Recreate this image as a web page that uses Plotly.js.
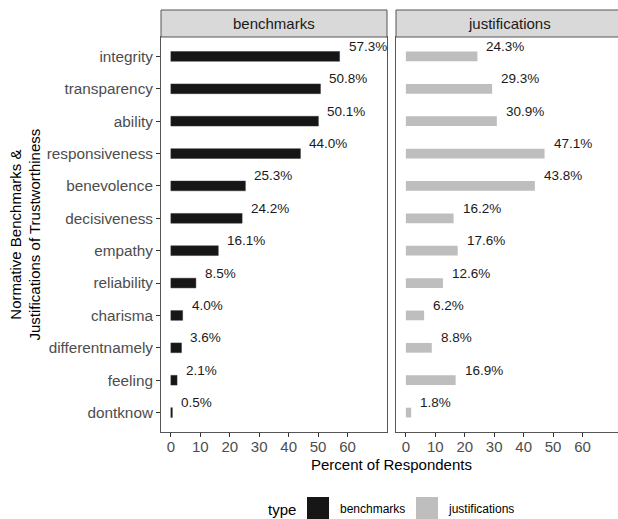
<!DOCTYPE html>
<html>
<head>
<meta charset="utf-8">
<script src="https://cdn.plot.ly/plotly-3.0.1.min.js"></script>
<style>
html,body{margin:0;padding:0;overflow:hidden;background:#fff;}
#chart{width:624px;height:519px;}
</style>
</head>
<body>
<div id="chart"></div>
<script>
const categories = ['integrity','transparency','ability','responsiveness','benevolence','decisiveness','empathy','reliability','charisma','differentnamely','feeling','dontknow'];
const benchmarks = [57.3,50.8,50.1,44.0,25.3,24.2,16.1,8.5,4.0,3.6,2.1,0.5];
const justifications = [24.3,29.3,30.9,47.1,43.8,16.2,17.6,12.6,6.2,8.8,16.9,1.8];
const panelNames = ['benchmarks','justifications'];
const xTicks = [0,10,20,30,40,50,60];
const xTitle = 'Percent of Respondents';
const yTitle = 'Normative Benchmarks &<br>Justifications of Trustworthiness';
const legendTitle = 'type';

const W = 624, H = 519, ML = 161, MR = 2, MT = 37, MB = 87;
const PW = W - ML - MR, PH = H - MT - MB;
const px = v => (v - ML) / PW;
const py = v => (H - MB - v) / PH;

const font = 'Liberation Sans, Arial, Helvetica, sans-serif';
const colBench = '#161616', colJust = '#bebebe';

const traces = [
  {type:'bar', orientation:'h', x:benchmarks, y:categories, xaxis:'x', yaxis:'y',
   width:0.3, marker:{color:colBench, line:{color:'#333', width:0.5}}, showlegend:false, hoverinfo:'skip'},
  {type:'bar', orientation:'h', x:justifications, y:categories, xaxis:'x2', yaxis:'y2',
   width:0.3, marker:{color:colJust}, showlegend:false, hoverinfo:'skip'}
];

const annotations = [];
const fmt = v => v.toFixed(1) + '%';
categories.forEach((c,i) => {
  annotations.push({xref:'x', yref:'y', x:benchmarks[i], y:c, text:fmt(benchmarks[i]), showarrow:false,
    xanchor:'left', yanchor:'middle', xshift:7, yshift:10, font:{family:font, size:13.5, color:'#1a1a1a'}});
  annotations.push({xref:'x2', yref:'y2', x:justifications[i], y:c, text:fmt(justifications[i]), showarrow:false,
    xanchor:'left', yanchor:'middle', xshift:7, yshift:10, font:{family:font, size:13.5, color:'#1a1a1a'}});
});

const d1 = [0, px(387)], d2 = [px(396), 1];
// strip labels
annotations.push({xref:'paper', yref:'paper', x:(d1[0]+d1[1])/2, y:py(23.5), text:panelNames[0], showarrow:false,
  xanchor:'center', yanchor:'middle', font:{family:font, size:15, color:'#1a1a1a'}});
annotations.push({xref:'paper', yref:'paper', x:(d2[0]+d2[1])/2, y:py(23.5), text:panelNames[1], showarrow:false,
  xanchor:'center', yanchor:'middle', font:{family:font, size:15, color:'#1a1a1a'}});
// axis titles
annotations.push({xref:'paper', yref:'paper', x:0.5, y:py(464), text:xTitle, showarrow:false,
  xanchor:'center', yanchor:'middle', font:{family:font, size:15, color:'#000'}});
annotations.push({xref:'paper', yref:'paper', x:px(25), y:0.5, text:yTitle, showarrow:false, textangle:-90,
  xanchor:'center', yanchor:'middle', font:{family:font, size:15, color:'#000'}});
// legend
annotations.push({xref:'paper', yref:'paper', x:px(298), y:py(509), text:legendTitle, showarrow:false,
  xanchor:'right', yanchor:'middle', font:{family:font, size:15, color:'#000'}});
annotations.push({xref:'paper', yref:'paper', x:px(338), y:py(509), text:panelNames[0], showarrow:false,
  xanchor:'left', yanchor:'middle', font:{family:font, size:12, color:'#000'}});
annotations.push({xref:'paper', yref:'paper', x:px(446), y:py(509), text:panelNames[1], showarrow:false,
  xanchor:'left', yanchor:'middle', font:{family:font, size:12, color:'#000'}});

const shapes = [
  {type:'rect', xref:'paper', yref:'paper', x0:d1[0], x1:d1[1], y0:1, y1:py(10), fillcolor:'#d9d9d9', line:{color:'#555', width:1}},
  {type:'rect', xref:'paper', yref:'paper', x0:d2[0], x1:d2[1]+0.01, y0:1, y1:py(10), fillcolor:'#d9d9d9', line:{color:'#555', width:1}},
  {type:'rect', xref:'paper', yref:'paper', x0:px(307), x1:px(329), y0:py(519), y1:py(497), fillcolor:colBench, line:{width:0}},
  {type:'rect', xref:'paper', yref:'paper', x0:px(416), x1:px(438), y0:py(519), y1:py(497), fillcolor:colJust, line:{width:0}}
];

const xBase = {range:[-3.35,73.4], tickvals:xTicks, ticktext:xTicks.map(String), ticks:'outside', ticklen:4,
  tickcolor:'#333', showgrid:false, zeroline:false, showline:true, linecolor:'#555', linewidth:1, mirror:true,
  ticklabelstandoff:-3, tickfont:{family:font, size:15, color:'#4d4d4d'}, fixedrange:true};
const yBase = {type:'category', categoryorder:'array', categoryarray:categories, range:[categories.length-0.4, -0.6],
  showgrid:false, zeroline:false, showline:true, linecolor:'#555', linewidth:1, mirror:true, fixedrange:true};

const layout = {
  width:W, height:H, margin:{l:ML, r:MR, t:MT, b:MB},
  paper_bgcolor:'#fff', plot_bgcolor:'#fff', showlegend:false,
  xaxis:Object.assign({}, xBase, {domain:d1, anchor:'y'}),
  xaxis2:Object.assign({}, xBase, {domain:d2, anchor:'y2'}),
  yaxis:Object.assign({}, yBase, {anchor:'x', ticks:'outside', ticklen:4, tickcolor:'#333',
    tickfont:{family:font, size:15.3, color:'#4d4d4d'}}),
  yaxis2:Object.assign({}, yBase, {anchor:'x2', matches:'y', showticklabels:false, ticks:''}),
  annotations:annotations, shapes:shapes
};

Plotly.newPlot('chart', traces, layout, {displayModeBar:false, staticPlot:true});
</script>
</body>
</html>
